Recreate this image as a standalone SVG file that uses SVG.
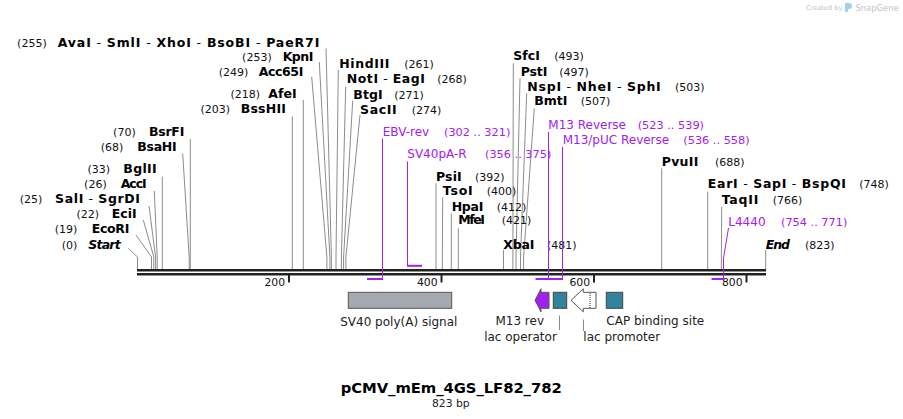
<svg xmlns="http://www.w3.org/2000/svg" width="903" height="419" viewBox="0 0 903 419">
<style>
text{font-family:"DejaVu Sans","Liberation Sans",sans-serif}
.n{font-size:11px;fill:#111}
.b{font-size:12.5px;font-weight:bold;fill:#000}
.bi{font-size:12.5px;font-weight:bold;font-style:italic;fill:#000}
.s{font-weight:normal}
.p{font-size:12px;fill:#a020f0}
.pn{font-size:11.3px;fill:#a020f0}
.f{font-size:12px;fill:#222}
.tk{font-size:10.8px;fill:#111;text-anchor:end}
.ld{stroke:#8c8c8c;stroke-width:1;fill:none}
.pl{stroke:#a020f0;stroke-width:1;fill:none}
.pb{stroke:#a020f0;stroke-width:2;fill:none}
.e{text-anchor:end}
</style>
<rect width="903" height="419" fill="#fff"/>
<g id="watermark">
<text x="806" y="10" font-size="6.6" fill="#c4c4c4">Created by</text>
<path d="M845,3 h4 a3,3 0 0 1 0,6 h-1 v3 h-3 z" fill="#9fd0ef"/>
<text x="855.5" y="10.5" font-size="8.4" fill="#c4c4c4">SnapGene</text>
</g>
<g id="connectors">
<polyline class="ld" points="326,48.5 331.4,257 331.4,269"/>
<polyline class="ld" points="319.3,62 329.9,257 329.9,269"/>
<polyline class="ld" points="311.7,77 326.9,257 326.9,269"/>
<polyline class="ld" points="303.3,100 303.3,269"/>
<polyline class="ld" points="292.3,116.5 292.3,269"/>
<polyline class="ld" points="190.3,139 190.3,269"/>
<polyline class="ld" points="182.7,153.5 189.2,257 189.2,269"/>
<polyline class="ld" points="162.3,176.5 162.3,269"/>
<polyline class="ld" points="154.3,191 157.2,257 157.2,269"/>
<polyline class="ld" points="149,206 155.6,257 155.6,269"/>
<polyline class="ld" points="143.3,220 153.8,257 153.8,269"/>
<polyline class="ld" points="136,235 151.5,257 151.5,269"/>
<polyline class="ld" points="128.3,248.3 137.5,257 137.5,269"/>
<polyline class="ld" points="338.3,70 336,257 336,269"/>
<polyline class="ld" points="345.7,86.7 341.4,257 341.4,269"/>
<polyline class="ld" points="352.7,100.7 343.6,257 343.6,269"/>
<polyline class="ld" points="360,115 345.9,257 345.9,269"/>
<polyline class="ld" points="436,183.3 436,269"/>
<polyline class="ld" points="442.7,197.3 442.3,269"/>
<polyline class="ld" points="451.3,213.3 451.3,269"/>
<polyline class="ld" points="458.3,228.3 458.3,269"/>
<polyline class="ld" points="503.5,250 503.5,269"/>
<polyline class="ld" points="513.3,63.3 512.9,257 512.9,269"/>
<polyline class="ld" points="520,78.3 516,257 516,269"/>
<polyline class="ld" points="526.7,93.3 520.5,257 520.5,269"/>
<polyline class="ld" points="534.3,108.3 523.6,257 523.6,269"/>
<polyline class="ld" points="661.7,168.3 661.7,269"/>
<polyline class="ld" points="707.7,191.7 707.7,269"/>
<polyline class="ld" points="721.7,206.7 721.3,269"/>
<polyline class="ld" points="765.7,250 765.7,269"/>
</g>
<g id="ruler">
<rect x="137" y="269" width="629" height="2.5" fill="#222"/>
<rect x="137" y="273" width="629" height="2.5" fill="#222"/>
<g stroke="#222" stroke-width="2">
<line x1="289" y1="275" x2="289" y2="282.5"/>
<line x1="441.5" y1="275" x2="441.5" y2="282.5"/>
<line x1="594" y1="275" x2="594" y2="282.5"/>
<line x1="746.5" y1="275" x2="746.5" y2="282.5"/>
</g>
<text class="tk" x="285" y="286">200</text>
<text class="tk" x="437.5" y="286">400</text>
<text class="tk" x="590" y="286">600</text>
<text class="tk" x="742.5" y="286">800</text>
</g>
<g id="site-255"><text class="n e" x="46.7" y="46.5">(255)</text><text class="b" x="57.7" y="46.5" textLength="261.6">AvaI<tspan class="s">  - </tspan>SmlI<tspan class="s">  - </tspan>XhoI<tspan class="s">  - </tspan>BsoBI<tspan class="s">  - </tspan>PaeR7I</text></g>
<g id="site-253"><text class="n e" x="271.7" y="60.7">(253)</text><text class="b" x="282.7" y="60.7" textLength="30.6">KpnI</text></g>
<g id="site-249"><text class="n e" x="248.3" y="75.7">(249)</text><text class="b" x="258.7" y="75.7" textLength="44.6">Acc65I</text></g>
<g id="site-218"><text class="n e" x="260" y="98.3">(218)</text><text class="b" x="268.3" y="98.3" textLength="28.4">AfeI</text></g>
<g id="site-203"><text class="n e" x="230" y="113.3">(203)</text><text class="b" x="240.7" y="113.3" textLength="45.3">BssHII</text></g>
<g id="site-70"><text class="n e" x="135.7" y="136">(70)</text><text class="b" x="149" y="136" textLength="35.3">BsrFI</text></g>
<g id="site-68"><text class="n e" x="123.3" y="150.7">(68)</text><text class="b" x="137.3" y="150.7" textLength="39.4">BsaHI</text></g>
<g id="site-33"><text class="n e" x="110" y="173.3">(33)</text><text class="b" x="123.3" y="173.3" textLength="33.4">BglII</text></g>
<g id="site-26"><text class="n e" x="106.7" y="188.3">(26)</text><text class="b" x="120.7" y="188.3" textLength="26">AccI</text></g>
<g id="site-25"><text class="n e" x="42.3" y="203.3">(25)</text><text class="b" x="55" y="203.3" textLength="85">SalI<tspan class="s">  - </tspan>SgrDI</text></g>
<g id="site-22"><text class="n e" x="99" y="218.3">(22)</text><text class="b" x="111.7" y="218.3" textLength="25">EciI</text></g>
<g id="site-19"><text class="n e" x="77.3" y="233.3">(19)</text><text class="b" x="91.7" y="233.3" textLength="37.6">EcoRI</text></g>
<g id="start"><text class="n e" x="77.3" y="249">(0)</text><text class="bi" x="88.3" y="249" textLength="32.4">Start</text></g>
<g id="site-261"><text class="b" x="339.3" y="68.3" textLength="50">HindIII</text><text class="n" x="404.3" y="68.3">(261)</text></g>
<g id="site-268"><text class="b" x="346.7" y="83.3" textLength="78.3">NotI<tspan class="s">  - </tspan>EagI</text><text class="n" x="437.3" y="83.3">(268)</text></g>
<g id="site-271"><text class="b" x="353.3" y="99" textLength="29.4">BtgI</text><text class="n" x="394.3" y="99">(271)</text></g>
<g id="site-274"><text class="b" x="360" y="114" textLength="36.7">SacII</text><text class="n" x="411.7" y="114">(274)</text></g>
<g id="site-392"><text class="b" x="436" y="180.7" textLength="25.7">PsiI</text><text class="n" x="475" y="180.7">(392)</text></g>
<g id="site-400"><text class="b" x="442.7" y="195" textLength="30">TsoI</text><text class="n" x="486.7" y="195">(400)</text></g>
<g id="site-412"><text class="b" x="451.7" y="210.7" textLength="31.6">HpaI</text><text class="n" x="496.7" y="210.7">(412)</text></g>
<g id="site-421"><text class="b" x="458.3" y="224.3" textLength="26.7">MfeI</text><text class="n" x="501.7" y="224.3">(421)</text></g>
<g id="site-481"><text class="b" x="503.3" y="249" textLength="31">XbaI</text><text class="n" x="547" y="249">(481)</text></g>
<g id="site-493"><text class="b" x="513.3" y="60" textLength="26.7">SfcI</text><text class="n" x="554.3" y="60">(493)</text></g>
<g id="site-497"><text class="b" x="520.7" y="75.7" textLength="26.6">PstI</text><text class="n" x="559.3" y="75.7">(497)</text></g>
<g id="site-503"><text class="b" x="527.3" y="90.7" textLength="133.4">NspI<tspan class="s">  - </tspan>NheI<tspan class="s">  - </tspan>SphI</text><text class="n" x="675" y="90.7">(503)</text></g>
<g id="site-507"><text class="b" x="534.3" y="105" textLength="33">BmtI</text><text class="n" x="580.7" y="105">(507)</text></g>
<g id="site-688"><text class="b" x="661.7" y="166" textLength="36.6">PvuII</text><text class="n" x="715" y="166">(688)</text></g>
<g id="site-748"><text class="b" x="707.7" y="188.3" textLength="138.3">EarI<tspan class="s">  - </tspan>SapI<tspan class="s">  - </tspan>BspQI</text><text class="n" x="859.3" y="188.3">(748)</text></g>
<g id="site-766"><text class="b" x="721.7" y="204" textLength="36.6">TaqII</text><text class="n" x="772.7" y="204">(766)</text></g>
<g id="end"><text class="bi" x="765.7" y="249" textLength="24.3">End</text><text class="n" x="805" y="249">(823)</text></g>
<g id="primer-EBV-rev">
<polyline class="pl" points="382.5,138.5 382.5,279"/>
<line class="pb" x1="367" y1="279" x2="383" y2="279"/>
<text class="p" x="382.7" y="136">EBV-rev</text><text class="pn" x="444" y="136">(302 .. 321)</text>
</g>
<g id="primer-SV40pA-R">
<polyline class="pl" points="407.5,161.5 407.5,266"/>
<line class="pb" x1="407" y1="265.8" x2="422" y2="265.8"/>
<text class="p" x="407.3" y="158.3">SV40pA-R</text><text class="pn" x="485" y="158.3">(356 .. 375)</text>
</g>
<g id="primer-M13-Reverse">
<polyline class="pl" points="548.5,132 548.5,279"/>
<line class="pb" x1="535.5" y1="279" x2="549" y2="279"/>
<text class="p" x="548.3" y="129.3">M13 Reverse</text><text class="pn" x="637.7" y="129.3">(523 .. 539)</text>
</g>
<g id="primer-M13-pUC-Reverse">
<polyline class="pl" points="562.5,147 562.5,279"/>
<line class="pb" x1="545.5" y1="279" x2="563" y2="279"/>
<text class="p" x="562.7" y="144">M13/pUC Reverse</text><text class="pn" x="683.3" y="144">(536 .. 558)</text>
</g>
<g id="primer-L4440">
<polyline class="pl" points="728.5,228 723.5,258.3 723.5,279"/>
<line class="pb" x1="711.5" y1="279" x2="724.5" y2="279"/>
<text class="p" x="728.3" y="225.7">L4440</text><text class="pn" x="781" y="225.7">(754 .. 771)</text>
</g>
<g id="feature-SV40-polyA">
<rect x="348.3" y="292.3" width="103.4" height="16" fill="#a4a9b0" stroke="#555" stroke-width="1"/>
<text class="f" x="398.8" y="326" text-anchor="middle">SV40 poly(A) signal</text>
</g>
<g id="feature-M13-rev">
<polygon points="549,292.3 541,292.3 541,288.8 535,300.3 541,311.8 541,308.3 549,308.3" fill="#a020f0" stroke="#555" stroke-width="1"/>
<text class="f" x="519.7" y="325" text-anchor="middle">M13 rev</text>
</g>
<g id="feature-lac-operator">
<rect x="553.3" y="292.3" width="13.4" height="16" fill="#31849b" stroke="#444" stroke-width="1"/>
<line class="ld" x1="559.5" y1="315.5" x2="559.5" y2="330"/>
<text class="f" x="520.5" y="340.7" text-anchor="middle">lac operator</text>
</g>
<g id="feature-lac-promoter">
<polygon points="596,292.3 583.3,292.3 583.3,288.8 571,300.3 583.3,311.8 583.3,308.3 596,308.3" fill="#fff" stroke="#555" stroke-width="1"/>
<line x1="590" y1="293" x2="590" y2="308" stroke="#333" stroke-width="1" stroke-dasharray="1,1"/>
<line class="ld" x1="583.5" y1="319.5" x2="583.5" y2="331"/>
<text class="f" x="583.3" y="340.7">lac promoter</text>
</g>
<g id="feature-CAP">
<rect x="606.3" y="292.3" width="16.4" height="16" fill="#31849b" stroke="#444" stroke-width="1"/>
<text class="f" x="655.3" y="325" text-anchor="middle">CAP binding site</text>
</g>
<g id="title">
<text x="451.2" y="393.3" text-anchor="middle" font-size="14.8" font-weight="bold" fill="#000" textLength="221">pCMV_mEm_4GS_LF82_782</text>
<text x="450.8" y="407" text-anchor="middle" font-size="10.8" fill="#222">823 bp</text>
</g>
</svg>
